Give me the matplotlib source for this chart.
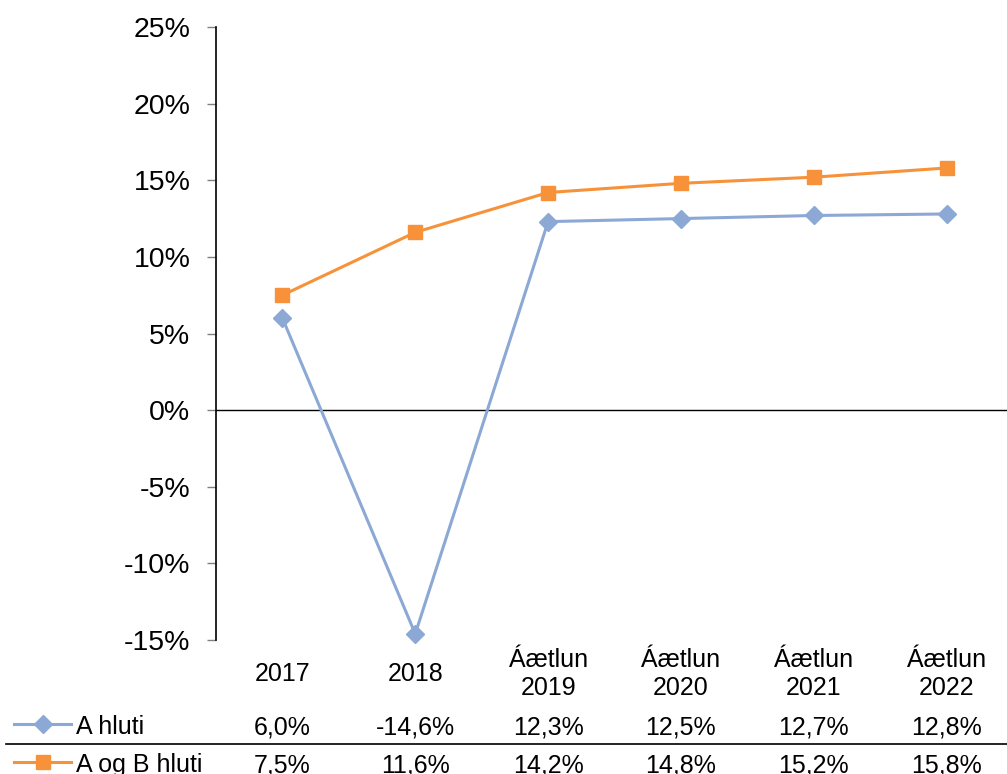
import matplotlib
matplotlib.use("Agg")
import matplotlib.pyplot as plt
import matplotlib.transforms as mtransforms
from matplotlib.lines import Line2D

plt.rcParams['font.family'] = ['Liberation Sans', 'DejaVu Sans']

categories = ["2017", "2018", "Áætlun\n2019", "Áætlun\n2020", "Áætlun\n2021", "Áætlun\n2022"]
series_names = ["A hluti", "A og B hluti"]
a_hluti = [6.0, -14.6, 12.3, 12.5, 12.7, 12.8]
a_og_b = [7.5, 11.6, 14.2, 14.8, 15.2, 15.8]
yticks = [-15, -10, -5, 0, 5, 10, 15, 20, 25]

blue = "#8CA8D5"
orange = "#F7923A"

W, H = 1007, 774
fig = plt.figure(figsize=(W / 100, H / 100), dpi=100)

def fy(py):
    return 1 - py / H

def fx(px):
    return px / W

LW = 2.2
D_MS = 9.6
S_MS = 10

ax = fig.add_axes([fx(216), fy(640), fx(1013) - fx(216), fy(27) - fy(640)])
x = list(range(len(categories)))
ax.plot(x, a_hluti, color=blue, lw=LW, marker="D", ms=D_MS, mec=blue, mfc=blue, zorder=3, clip_on=False)
ax.plot(x, a_og_b, color=orange, lw=LW, marker="s", ms=S_MS, mec=orange, mfc=orange, zorder=3, clip_on=False)
ax.axhline(0, color="black", lw=1.0, zorder=2)

ax.set_xlim(-0.5, len(categories) - 0.5)
ax.set_ylim(-15, 25)
ax.set_yticks(yticks)
ax.set_yticklabels([f"{v}%" for v in yticks], fontsize=20.5)
ax.tick_params(axis="y", direction="out", length=6.5, width=1, color="#808080", pad=12)
ax.set_xticks([])
for s in ["top", "right", "bottom"]:
    ax.spines[s].set_visible(False)
ax.spines["left"].set_color("black")
ax.spines["left"].set_linewidth(1.2)
ax.set_facecolor("none")

# data table
trans = mtransforms.blended_transform_factory(ax.transData, fig.transFigure)
fs = 18
for i, lab in enumerate(categories):
    lines = lab.split("\n")
    if len(lines) == 1:
        ax.text(i, fy(681), lines[0], transform=trans, ha="center", va="baseline", fontsize=fs)
    else:
        ax.text(i, fy(667), lines[0], transform=trans, ha="center", va="baseline", fontsize=fs)
        ax.text(i, fy(695), lines[1], transform=trans, ha="center", va="baseline", fontsize=fs)

def fmt(v):
    return f"{v:.1f}%".replace(".", ",")

rows = [(series_names[0], a_hluti, blue, "D", D_MS, 734),
        (series_names[1], a_og_b, orange, "s", S_MS, 772)]
for name, vals, col, mk, ms, base in rows:
    for i, v in enumerate(vals):
        ax.text(i, fy(base), fmt(v), transform=trans, ha="center", va="baseline", fontsize=fs)
    ky = fy(base - 10)
    fig.add_artist(Line2D([fx(14), fx(71)], [ky, ky], color=col, lw=LW))
    fig.add_artist(Line2D([fx(43)], [ky], color=col, marker=mk, ms=ms, mec=col, mfc=col))
    fig.text(fx(76), fy(base), name, ha="left", va="baseline", fontsize=fs)

fig.add_artist(Line2D([fx(6), fx(1007)], [fy(744), fy(744)], color="black", lw=1.2))

fig.savefig("out.png", dpi=100)
